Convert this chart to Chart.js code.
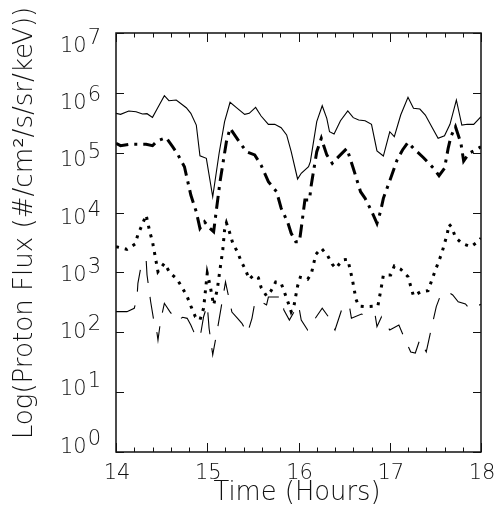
<!DOCTYPE html>
<html><head><meta charset="utf-8">
<script src="https://cdn.jsdelivr.net/npm/chart.js@4/dist/chart.umd.min.js"></script>
<style>html,body{margin:0;padding:0;background:#fff}canvas{display:block}</style>
</head><body>
<canvas id="c" width="495" height="530"></canvas>
<script>
// ---- data (time in hours, flux in #/cm2/s/sr/keV)
const tSolid = [14.00,14.05,14.14,14.22,14.29,14.34,14.40,14.45,14.53,14.58,14.66,14.77,14.82,14.88,14.92,14.99,15.06,15.13,15.19,15.25,15.32,15.41,15.46,15.53,15.59,15.67,15.74,15.81,15.87,15.92,15.99,16.03,16.11,16.13,16.20,16.26,16.31,16.34,16.39,16.46,16.54,16.60,16.66,16.73,16.80,16.86,16.93,17.00,17.05,17.12,17.20,17.26,17.33,17.39,17.46,17.53,17.60,17.66,17.73,17.79,17.85,17.92,18.00];
const fluxSolid = [4.55e5,4.38e5,4.98e5,4.84e5,4.43e5,4.49e5,3.9e5,5.37e5,8.96e5,7.4e5,7.6e5,5.65e5,4.55e5,2.9e5,8.9e4,8.05e4,1.84e4,9.8e4,3.3e5,6.95e5,5.65e5,4.38e5,4.55e5,5.73e5,4.1e5,2.98e5,2.98e5,2.62e5,1.98e5,1.04e5,3.64e4,4.53e4,5.84e4,7.08e4,3.3e5,6.1e5,3.76e5,2.24e5,2.05e5,3.43e5,4.98e5,3.85e5,3.52e5,3.43e5,2.98e5,1.07e5,8.8e4,2.24e5,1.85e5,4.26e5,8.43e5,5.52e5,5.37e5,4.26e5,2.72e5,1.74e5,1.92e5,2.98e5,7.6e5,2.9e5,2.98e5,2.98e5,4.0e5];

const tDashDot = [14.00,14.05,14.14,14.23,14.33,14.40,14.45,14.55,14.62,14.67,14.75,14.82,14.88,14.92,14.97,15.02,15.07,15.10,15.14,15.21,15.25,15.35,15.43,15.52,15.59,15.67,15.76,15.81,15.88,15.92,15.97,16.01,16.03,16.07,16.12,16.14,16.20,16.25,16.31,16.37,16.44,16.53,16.60,16.68,16.73,16.80,16.86,16.90,16.93,17.01,17.08,17.14,17.20,17.26,17.37,17.48,17.54,17.60,17.64,17.67,17.72,17.78,17.81,17.87,17.94,18.00];
const fluxDashDot = [1.44e5,1.31e5,1.38e5,1.38e5,1.38e5,1.31e5,1.57e5,1.78e5,1.26e5,9.8e4,5.83e4,1.96e4,1.03e4,5.46e3,7.0e3,5.59e3,4.79e3,1.1e4,3.28e4,1.53e5,2.56e5,1.53e5,1.04e5,9.2e4,6.2e4,3.28e4,2.23e4,1.18e4,7.0e3,4.5e3,3.26e3,3.26e3,5.46e3,1.62e4,1.62e4,2.89e4,1.04e5,1.74e5,9.2e4,6.65e4,8.6e4,1.18e5,5.5e4,2.23e4,1.73e4,1.06e4,6.6e3,1.06e4,1.73e4,3.74e4,7.55e4,1.11e5,1.49e5,1.18e5,8.25e4,5.5e4,4.13e4,5.5e4,1.18e5,1.85e5,2.72e5,1.44e5,7.27e4,9.8e4,1.11e5,1.26e5];

const tDotted = [14.00,14.12,14.21,14.24,14.29,14.33,14.37,14.40,14.44,14.46,14.53,14.59,14.67,14.73,14.78,14.82,14.87,14.92,14.96,15.00,15.03,15.07,15.11,15.14,15.17,15.19,15.21,15.24,15.28,15.33,15.37,15.42,15.46,15.51,15.56,15.59,15.65,15.70,15.75,15.81,15.85,15.90,15.92,15.95,15.99,16.02,16.10,16.14,16.19,16.25,16.32,16.37,16.41,16.48,16.54,16.59,16.63,16.66,16.74,16.87,16.91,16.93,17.01,17.05,17.12,17.20,17.26,17.34,17.42,17.49,17.57,17.63,17.65,17.68,17.72,17.79,17.89,17.98,18.00];
const fluxDotted = [2.69e3,2.43e3,2.99e3,4.27e3,6.44e3,9.1e3,4.79e3,3.26e3,1.51e3,1.03e3,1.42e3,990,767,543,394,275,182,160,252,967,617,286,522,1.13e3,2.37e3,5.11e3,6.7e3,4.92e3,3.06e3,2.22e3,1.55e3,1.10e3,767,906,816,564,404,495,692,658,448,275,221,275,593,829,767,941,2.01e3,2.53e3,1.9e3,1.37e3,1.17e3,1.61e3,1.66e3,767,356,275,268,275,593,906,906,1.28e3,1.13e3,849,404,476,495,990,2.09e3,4.39e3,6.37e3,5.67e3,3.86e3,3.06e3,2.69e3,3.39e3,3.76e3];

const tDashed = [14.00,14.12,14.20,14.23,14.24,14.27,14.33,14.34,14.38,14.41,14.45,14.46,14.49,14.53,14.59,14.67,14.73,14.78,14.82,14.86,14.92,14.96,15.00,15.02,15.06,15.11,15.20,15.27,15.33,15.38,15.44,15.49,15.52,15.56,15.65,15.67,15.75,15.81,15.84,15.90,15.95,16.00,16.03,16.10,16.17,16.26,16.34,16.40,16.49,16.56,16.58,16.69,16.75,16.79,16.84,16.86,16.91,17.00,17.10,17.17,17.23,17.28,17.33,17.40,17.44,17.51,17.56,17.65,17.69,17.75,17.83,17.88,17.92,18.00];
const fluxDashed = [221,221,252,370,658,1170,1660,906,324,171,96,74,160,305,221,154,178,171,132,96,80,182,286,117,42,109,692,218,173,141,96,171,305,346,286,388,388,388,236,160,218,286,160,109,160,252,171,109,286,261,171,202,182,187,194,124,182,109,132,74,47,45,76,47,90,268,431,458,420,324,297,242,261,293];

const xTickLabels = ['14','15','16','17','18'];
const yExponents = [0,1,2,3,4,5,6,7];
const xTitle = 'Time (Hours)';
const yTitle = 'Log(Proton Flux (#/cm\u00B2/s/sr/keV))';

const pts = (t, v) => t.map((x, i) => ({x, y: v[i]}));
const FONT = "'DejaVu Sans ExtraLight', 'DejaVu Sans Light', 'DejaVu Sans', 'Liberation Sans', sans-serif";

const decor = {
  id: 'decor',
  afterDraw(chart) {
    const {ctx, chartArea: a, scales: {x, y}} = chart;
    ctx.save();
    ctx.strokeStyle = '#111';
    ctx.lineWidth = 1.5;
    ctx.strokeRect(a.left, a.top, a.right - a.left, a.bottom - a.top);
    ctx.lineWidth = 1;
    // x ticks (major every hour, minor every 0.2 h), top & bottom, inward
    for (let i = 0; i <= 20; i++) {
      const px = Math.round(x.getPixelForValue(14 + i * 0.2)) + 0.5;
      const len = (i % 5 === 0) ? 9 : 4.5;
      ctx.beginPath();
      ctx.moveTo(px, a.bottom); ctx.lineTo(px, a.bottom - len);
      ctx.moveTo(px, a.top); ctx.lineTo(px, a.top + len);
      ctx.stroke();
    }
    // y ticks at decades, left & right, inward
    yExponents.forEach(n => {
      const py = Math.round(y.getPixelForValue(Math.pow(10, n))) + 0.5;
      ctx.beginPath();
      ctx.moveTo(a.left, py); ctx.lineTo(a.left + 8, py);
      ctx.moveTo(a.right, py); ctx.lineTo(a.right - 8, py);
      ctx.stroke();
    });
    ctx.fillStyle = '#111';
    // y tick labels 10^n
    ctx.textBaseline = 'alphabetic';
    yExponents.forEach(n => {
      const base = y.getPixelForValue(Math.pow(10, n)) + 0.7 + 2.56 * n;
      ctx.font = '200 21px ' + FONT;
      ctx.textAlign = 'right';
      const expW = ctx.measureText(String(n)).width;
      ctx.fillText(String(n), 101, base - 8);
      ctx.fillText('10', 101 - expW - 1, base);
    });
    // x tick labels
    ctx.font = '200 21px ' + FONT;
    ctx.textAlign = 'center';
    xTickLabels.forEach(lbl => {
      const px = x.getPixelForValue(Number(lbl));
      ctx.fillText(lbl, px + 1, 479);
    });
    // x title
    let fs = 24;
    ctx.font = '200 ' + fs + 'px ' + FONT;
    fs = fs * 167 / ctx.measureText(xTitle).width;
    ctx.font = '200 ' + fs.toFixed(1) + 'px ' + FONT;
    ctx.fillText(xTitle, 297, 500);
    // y title
    fs = 22;
    ctx.font = '200 ' + fs + 'px ' + FONT;
    fs = fs * 432 / ctx.measureText(yTitle).width;
    ctx.font = '200 ' + fs.toFixed(1) + 'px ' + FONT;
    ctx.translate(32, 223);
    ctx.rotate(-Math.PI / 2);
    ctx.fillText(yTitle, 0, 0);
    ctx.restore();
  }
};

new Chart(document.getElementById('c'), {
  type: 'line',
  data: {
    datasets: [
      {data: pts(tSolid, fluxSolid), borderColor: '#000', borderWidth: 1.1},
      {data: pts(tDashDot, fluxDashDot), borderColor: '#000', borderWidth: 3, borderDash: [13, 6, 3, 6]},
      {data: pts(tDotted, fluxDotted), borderColor: '#000', borderWidth: 3, borderDash: [3, 6]},
      {data: pts(tDashed, fluxDashed), borderColor: '#000', borderWidth: 1.1, borderDash: [22, 14]}
    ]
  },
  options: {
    responsive: false,
    animation: false,
    events: [],
    layout: {padding: {left: 116, top: 33, right: 14, bottom: 78}},
    elements: {point: {radius: 0}, line: {tension: 0, fill: false, borderCapStyle: 'butt', borderJoinStyle: 'miter'}},
    plugins: {legend: {display: false}, tooltip: {enabled: false}},
    scales: {
      x: {type: 'linear', min: 14, max: 18, display: false},
      y: {type: 'logarithmic', min: 1, max: 1e7, display: false}
    }
  },
  plugins: [decor]
});
</script>
</body></html>
